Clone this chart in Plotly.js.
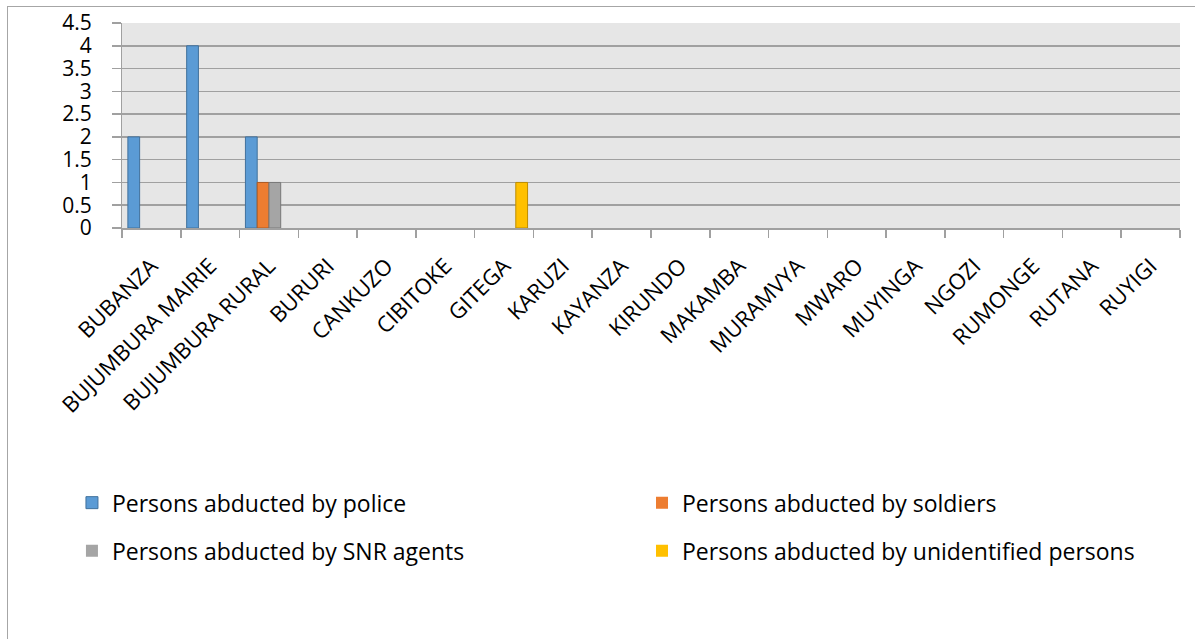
<!DOCTYPE html>
<html>
<head>
<meta charset="utf-8">
<script src="https://cdn.plot.ly/plotly-3.0.1.min.js"></script>
<style>
  html, body { margin: 0; padding: 0; background: #fff; }
  #wrap { position: relative; width: 1195px; height: 639px; overflow: hidden; }
  #chart { width: 1195px; height: 639px; }
  #frame { position: absolute; left: 7px; top: 6px; width: 1200px; height: 650px;
           border-left: 1.5px solid #a6a6a6; border-top: 1.5px solid #a6a6a6; pointer-events: none; }
</style>
</head>
<body>
<div id="wrap">
  <div id="chart"></div>
  <div id="frame"></div>
</div>
<script>
const provinces = ["BUBANZA", "BUJUMBURA MAIRIE", "BUJUMBURA RURAL", "BURURI", "CANKUZO", "CIBITOKE",
  "GITEGA", "KARUZI", "KAYANZA", "KIRUNDO", "MAKAMBA", "MURAMVYA", "MWARO", "MUYINGA", "NGOZI",
  "RUMONGE", "RUTANA", "RUYIGI"];
const byPolice       = [2, 4, 2, 0, 0, 0, 0, 0, 0, 0, 0, 0, 0, 0, 0, 0, 0, 0];
const bySoldiers     = [0, 0, 1, 0, 0, 0, 0, 0, 0, 0, 0, 0, 0, 0, 0, 0, 0, 0];
const bySNR          = [0, 0, 1, 0, 0, 0, 0, 0, 0, 0, 0, 0, 0, 0, 0, 0, 0, 0];
const byUnidentified = [0, 0, 0, 0, 0, 0, 1, 0, 0, 0, 0, 0, 0, 0, 0, 0, 0, 0];
const seriesNames = ["Persons abducted by police", "Persons abducted by soldiers",
  "Persons abducted by SNR agents", "Persons abducted by unidentified persons"];
const yTicks = [0, 0.5, 1, 1.5, 2, 2.5, 3, 3.5, 4, 4.5];

const fills = ["#5b9bd5", "#ed7d31", "#a5a5a5", "#ffc000"];
const edges = ["#41719c", "#ae5a21", "#787878", "#bc8c00"];
const seriesVals = [byPolice, bySoldiers, bySNR, byUnidentified];
const legendIds = ["legend", "legend2", "legend3", "legend4"];

const traces = seriesVals.map((vals, i) => ({
  type: "bar",
  name: seriesNames[i],
  x: provinces,
  y: vals,
  marker: {
    color: fills[i],
    line: { color: edges[i], width: vals.map(v => (v === 0 ? 0 : 1)) }
  },
  legend: legendIds[i],
  hoverinfo: "skip"
}));

const legendFont = { family: "Open Sans, sans-serif", size: 23, color: "#000" };
function legendAt(x, y) {
  return { orientation: "h", x: x, xanchor: "left", y: y, yanchor: "middle",
           font: legendFont, bgcolor: "rgba(0,0,0,0)" };
}
const layout = {
  width: 1195, height: 639,
  margin: { l: 122, r: 15, t: 23, b: 411 },
  paper_bgcolor: "#ffffff",
  plot_bgcolor: "#e6e6e6",
  barmode: "group",
  bargap: 0.2,
  bargroupgap: 0,
  font: { family: "Open Sans, sans-serif", color: "#000" },
  xaxis: {
    type: "category",
    tickangle: -45,
    tickfont: { size: 22, family: "Open Sans, sans-serif" },
    ticks: "outside", tickson: "boundaries", ticklen: 8, tickcolor: "#a0a0a0", tickwidth: 1.5,
    ticklabelstandoff: 15,
    showline: true, linecolor: "#a0a0a0", linewidth: 1.5,
    showgrid: false, zeroline: false, fixedrange: true
  },
  yaxis: {
    range: [0, 4.5],
    tickvals: yTicks,
    ticktext: yTicks.map(String),
    tickfont: { size: 21, family: "Open Sans, sans-serif" },
    ticks: "outside", ticklen: 9, tickcolor: "#a0a0a0", tickwidth: 1.5,
    ticklabelstandoff: 16,
    showline: true, linecolor: "#a0a0a0", linewidth: 1,
    showgrid: true, gridcolor: "#a0a0a0", gridwidth: 1.5,
    zeroline: false, fixedrange: true
  },
  showlegend: true,
  legend:  legendAt(-0.0473, -1.34),
  legend2: legendAt(0.4915, -1.34),
  legend3: legendAt(-0.0473, -1.575),
  legend4: legendAt(0.4915, -1.575)
};

Plotly.newPlot("chart", traces, layout, { displayModeBar: false, staticPlot: true });
</script>
</body>
</html>
